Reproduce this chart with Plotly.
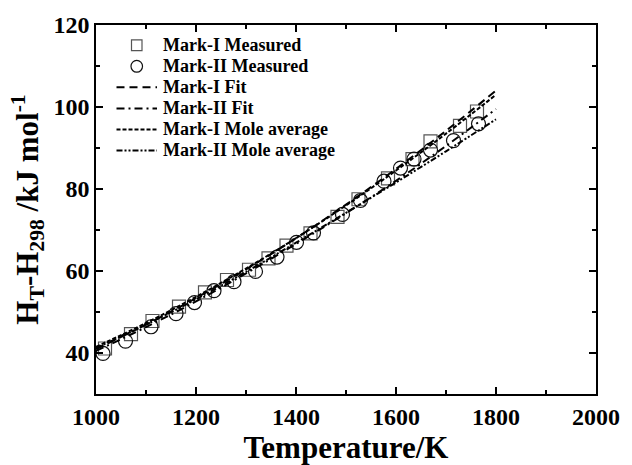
import plotly.graph_objects as go

mark1_T = [1018, 1070, 1113, 1166, 1218, 1262, 1306, 1345, 1381, 1429, 1483, 1525, 1584, 1633, 1669, 1728, 1762]
mark1_H = [41.1, 44.6, 47.8, 51.3, 54.8, 57.8, 60.3, 63.1, 66.2, 69.2, 73.2, 77.5, 82.6, 87.3, 91.6, 95.4, 98.9]

mark2_T = [1014, 1059, 1110, 1160, 1197, 1236, 1276, 1319, 1362, 1401, 1435, 1493, 1529, 1576, 1609, 1636, 1669, 1715, 1765]
mark2_H = [39.9, 42.9, 46.4, 49.6, 52.3, 55.2, 57.4, 59.9, 63.4, 67.0, 69.3, 73.8, 77.2, 81.9, 85.1, 87.3, 89.5, 91.8, 95.9]

# Curves (read at 100 K steps)
curve_T = [1000, 1100, 1200, 1300, 1400, 1500, 1600, 1700, 1800]
mark1_fit = [41.0, 46.9, 53.4, 60.4, 68.0, 76.2, 84.9, 94.2, 104.0]
mark2_fit = [40.5, 46.3, 52.6, 59.4, 66.6, 74.1, 82.0, 90.5, 99.5]
mark1_mole = [41.5, 47.3, 53.7, 60.6, 68.0, 76.0, 84.5, 93.5, 103.0]
mark2_mole = [41.2, 46.9, 53.1, 59.8, 66.9, 74.2, 81.6, 89.2, 97.0]

x_ticks = [1000, 1200, 1400, 1600, 1800, 2000]
y_ticks = [40, 60, 80, 100, 120]

series_names = ["Mark-I Measured", "Mark-II Measured", "Mark-I Fit", "Mark-II Fit",
                "Mark-I Mole average", "Mark-II Mole average"]

FONT = "Liberation Serif"
SQ_COLOR = "#555555"
CI_COLOR = "#111111"
DASH_FIT1 = "8px,5px"
DASH_FIT2 = "8px,4px,2px,4px"
DASH_MOLE1 = "4px,2px"
DASH_MOLE2 = "6px,2px,2px,2px,2px,2px"

fig = go.Figure()
fig.add_trace(go.Scatter(x=mark1_T, y=mark1_H, mode="markers", name=series_names[0],
                         marker=dict(symbol="square-open", size=13, color=SQ_COLOR, line=dict(width=1.2))))
fig.add_trace(go.Scatter(x=mark2_T, y=mark2_H, mode="markers", name=series_names[1],
                         marker=dict(symbol="circle-open", size=14, color=CI_COLOR, line=dict(width=1.2))))
fig.add_trace(go.Scatter(x=curve_T, y=mark1_fit, mode="lines", name=series_names[2], line_shape="spline",
                         line=dict(color="black", width=2, dash=DASH_FIT1)))
fig.add_trace(go.Scatter(x=curve_T, y=mark2_fit, mode="lines", name=series_names[3], line_shape="spline",
                         line=dict(color="black", width=2, dash=DASH_FIT2)))
fig.add_trace(go.Scatter(x=curve_T, y=mark1_mole, mode="lines", name=series_names[4], line_shape="spline",
                         line=dict(color="black", width=2, dash=DASH_MOLE1)))
fig.add_trace(go.Scatter(x=curve_T, y=mark2_mole, mode="lines", name=series_names[5], line_shape="spline",
                         line=dict(color="black", width=2, dash=DASH_MOLE2)))

# Manual legend (paper coordinates) for tight row spacing
row_y = [0.945, 0.888, 0.831, 0.774, 0.717, 0.660]
sx0, sx1, scx, tx = 0.041, 0.122, 0.0815, 0.130
hw, hh = 0.0105, 0.0145
shapes = [
    dict(type="rect", xref="paper", yref="paper", x0=scx - hw, x1=scx + hw, y0=row_y[0] - hh, y1=row_y[0] + hh,
         line=dict(color=SQ_COLOR, width=1.2)),
    dict(type="circle", xref="paper", yref="paper", x0=scx - hw * 1.1, x1=scx + hw * 1.1,
         y0=row_y[1] - hh * 1.1, y1=row_y[1] + hh * 1.1, line=dict(color=CI_COLOR, width=1.2)),
]
for ry, dsh in zip(row_y[2:], [DASH_FIT1, DASH_FIT2, DASH_MOLE1, DASH_MOLE2]):
    shapes.append(dict(type="line", xref="paper", yref="paper", x0=sx0, x1=sx1, y0=ry, y1=ry,
                       line=dict(color="black", width=2, dash=dsh)))
annotations = [dict(xref="paper", yref="paper", x=tx, y=ry, xanchor="left", yanchor="middle",
                    text=f"<b>{nm}</b>", showarrow=False, font=dict(family=FONT, size=18, color="black"))
               for ry, nm in zip(row_y, series_names)]

axis_common = dict(showline=True, linecolor="black", linewidth=1.5, mirror="ticks", ticks="inside",
                   ticklen=7, tickwidth=1.5, tickcolor="black", showgrid=False, zeroline=False,
                   tickfont=dict(family=FONT, size=24, color="black"))

fig.update_xaxes(range=[1000, 2000], tickvals=x_ticks,
                 ticktext=[f"<b>{v}</b>" for v in x_ticks],
                 minor=dict(tickvals=[1100, 1300, 1500, 1700, 1900], ticks="inside", ticklen=4, tickcolor="black", tickwidth=1.5),
                 title=dict(text="<b>Temperature/K</b>", font=dict(family=FONT, size=31, color="black"), standoff=2),
                 **axis_common)
fig.update_yaxes(range=[30, 120], tickvals=y_ticks,
                 ticktext=[f"<b>{v}</b>" for v in y_ticks],
                 minor=dict(tickvals=[50, 70, 90, 110], ticks="inside", ticklen=4, tickcolor="black", tickwidth=1.5),
                 title=dict(text="<b>H<sub>T</sub>-H<sub>298</sub> /kJ mol<sup>-1</sup></b>",
                            font=dict(family=FONT, size=31, color="black"), standoff=6),
                 **axis_common)

fig.update_layout(width=632, height=465, margin=dict(l=96, r=27, t=21, b=61),
                  plot_bgcolor="white", paper_bgcolor="white",
                  font=dict(family=FONT, color="black"),
                  showlegend=False, shapes=shapes, annotations=annotations)

fig.write_html("out.html")
